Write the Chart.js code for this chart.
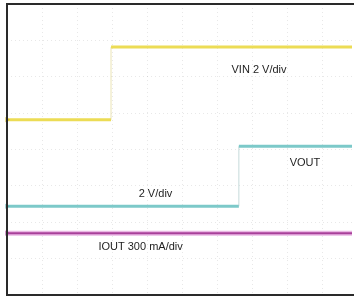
<!DOCTYPE html>
<html>
<head>
<meta charset="utf-8">
<script src="https://cdn.jsdelivr.net/npm/chart.js@4"></script>
<style>
html,body{margin:0;padding:0;background:#fff;}
#wrap{width:356px;height:299px;position:relative;}
</style>
</head>
<body>
<div id="wrap"><canvas id="c" width="356" height="299"></canvas></div>
<script>
// Time axis in screen divisions (oscilloscope capture, 10 div wide, image cropped at right)
const timeDiv = [0, 1, 2, 3, 4, 5, 6, 7, 8, 9];
// Channel 1: VIN (2 V/div)
const vinT = [0, 2.97, 2.97, 9.85];
const vinV = [0, 0, 4.0, 4.0];
// Channel 2: VOUT (2 V/div)
const voutT = [0, 6.62, 6.62, 9.85];
const voutV = [0, 0, 3.3, 3.3];
// Channel 3: IOUT (300 mA/div)
const ioutT = [0, 9.85];
const ioutA = [0, 0];
// Per-channel scale settings: units per division and ground-marker position (divisions from bottom)
const vinPerDiv = 2, vinZeroDiv = 4.82;
const voutPerDiv = 2, voutZeroDiv = 2.44;
const ioutPerDiv = 300, ioutZeroDiv = 1.70;
const nDivY = 8;
// Annotation texts
const labels = [
  {text: 'VIN 2 V/div', x: 6.41, y: 6.19},
  {text: 'VOUT', x: 8.07, y: 3.62},
  {text: '2 V/div', x: 3.76, y: 2.77},
  {text: 'IOUT 300 mA/div', x: 2.61, y: 1.32}
];

const pts = (xs, ys) => xs.map((x, i) => ({x: x, y: ys[i]}));
const edgeFade = (col) => ({
  borderColor: c => (c.p0.parsed.x === c.p1.parsed.x ? col : undefined),
  borderWidth: c => (c.p0.parsed.x === c.p1.parsed.x ? 1 : undefined)
});
const marker = (col) => ({
  pointRadius: c => (c.dataIndex === 0 ? 3 : 0),
  pointStyle: 'triangle',
  rotation: 90,
  pointBackgroundColor: col,
  pointBorderWidth: 0,
  clip: false
});

const frame = {
  id: 'frame',
  afterDraw(chart) {
    const a = chart.chartArea, ctx = chart.ctx;
    ctx.save();
    ctx.strokeStyle = '#2a2a2a';
    ctx.lineWidth = 2;
    ctx.beginPath();
    ctx.moveTo(a.right + 2, a.top);
    ctx.lineTo(a.left, a.top);
    ctx.lineTo(a.left, a.bottom);
    ctx.lineTo(a.right + 2, a.bottom);
    ctx.stroke();
    const xs = chart.scales.x, ys = chart.scales.y;
    ctx.fillStyle = '#1e1e1e';
    ctx.font = '11px "Liberation Sans", Arial, sans-serif';
    ctx.textBaseline = 'middle';
    ctx.textAlign = 'left';
    labels.forEach(l => ctx.fillText(l.text, xs.getPixelForValue(l.x), ys.getPixelForValue(l.y)));
    ctx.restore();
  }
};

// Note: Chart.js draws higher dataset indices first, so the IOUT halo comes last in the list.
new Chart(document.getElementById('c'), {
  type: 'line',
  data: {
    datasets: [
      Object.assign({data: pts(vinT, vinV), yAxisID: 'yV', borderColor: '#ecdc55', borderWidth: 3, segment: edgeFade('rgba(225,215,150,0.7)')}, marker('#d8c430')),
      Object.assign({data: pts(voutT, voutV), yAxisID: 'yO', borderColor: '#7cc9c9', borderWidth: 3, segment: edgeFade('rgba(160,195,195,0.6)')}, marker('#5fb5b5')),
      Object.assign({data: pts(ioutT, ioutA), yAxisID: 'yI', borderColor: '#a8409a', borderWidth: 2}, marker('#a8409a')),
      {data: pts(ioutT, ioutA), yAxisID: 'yI', borderColor: 'rgba(232,175,225,0.9)', borderWidth: 5, pointRadius: 0}
    ]
  },
  options: {
    responsive: false,
    animation: false,
    layout: {padding: {left: 7, top: 4, right: 0, bottom: 3}},
    plugins: {legend: {display: false}, tooltip: {enabled: false}},
    elements: {line: {tension: 0, borderJoinStyle: 'miter'}},
    scales: {
      x: {
        type: 'linear', min: 0, max: 9.85,
        afterBuildTicks: s => { s.ticks = timeDiv.map(v => ({value: v})); },
        grid: {color: 'rgba(0,0,0,0.09)', drawTicks: false, lineWidth: 1},
        border: {display: false, dash: [1, 3]},
        ticks: {display: false}
      },
      y: {
        type: 'linear', min: 0, max: nDivY,
        ticks: {display: false, stepSize: 1},
        grid: {color: 'rgba(0,0,0,0.09)', drawTicks: false},
        border: {display: false, dash: [1, 3]}
      },
      yV: {display: false, min: -vinZeroDiv * vinPerDiv, max: (nDivY - vinZeroDiv) * vinPerDiv},
      yO: {display: false, min: -voutZeroDiv * voutPerDiv, max: (nDivY - voutZeroDiv) * voutPerDiv},
      yI: {display: false, min: -ioutZeroDiv * ioutPerDiv, max: (nDivY - ioutZeroDiv) * ioutPerDiv}
    }
  },
  plugins: [frame]
});
</script>
</body>
</html>
